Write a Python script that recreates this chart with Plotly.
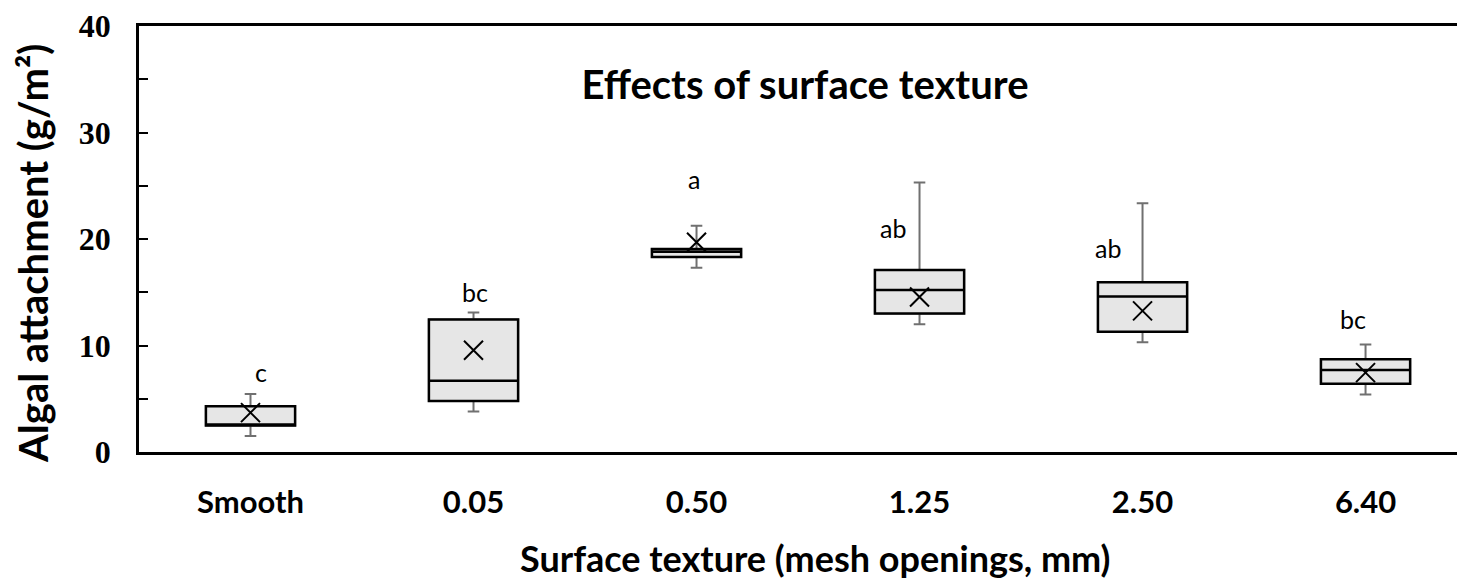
import plotly.graph_objects as go

# box statistics (g/m2)
textures = ["Smooth", "0.05", "0.50", "1.25", "2.50", "6.40"]
lower = [1.5, 3.8, 17.3, 12.0, 10.3, 5.4]
q1 = [2.5, 4.8, 18.3, 13.0, 11.3, 6.4]
median = [2.55, 6.7, 18.8, 15.2, 14.6, 7.7]
q3 = [4.3, 12.45, 19.05, 17.1, 15.95, 8.7]
upper = [5.45, 13.1, 21.25, 25.3, 23.35, 10.1]
means = [3.7, 9.55, 19.7, 14.55, 13.25, 7.45]

# significance letters and where they sit
letters = ["c", "bc", "a", "ab", "ab", "bc"]
letter_y = [7.5, 15.0, 25.6, 21.0, 19.2, 12.5]
letter_dx = [10, 1, -3, -27, -35, -13]

SANS = "Lato"

fig = go.Figure()

# whiskers (grey) – full box drawn first
fig.add_trace(go.Box(
    x=textures, q1=q1, median=median, q3=q3, lowerfence=lower, upperfence=upper,
    fillcolor="#e6e6e6", line=dict(color="#707070", width=2),
    width=0.4, whiskerwidth=0.13, boxpoints=False, hoverinfo="skip", showlegend=False,
))
# box + median in black on top, no whiskers
fig.add_trace(go.Box(
    x=textures, q1=q1, median=median, q3=q3, lowerfence=q1, upperfence=q3,
    fillcolor="#e6e6e6", line=dict(color="black", width=2.5),
    width=0.4, whiskerwidth=0, boxpoints=False, showlegend=False,
))
# means
fig.add_trace(go.Scatter(
    x=textures, y=means, mode="markers", showlegend=False,
    marker=dict(symbol="x-thin-open", size=19, color="black",
                line=dict(color="black", width=2)),
))

for i, (lab, ly, dx) in enumerate(zip(letters, letter_y, letter_dx)):
    fig.add_annotation(x=i, y=ly, text=lab, showarrow=False, xshift=dx,
                       font=dict(family=SANS, size=25, color="black"))

# axis titles as paper annotations so they sit exactly where the original has them
fig.add_annotation(text="<b>Algal attachment (g/m²)</b>", textangle=-90,
                   xref="paper", yref="paper", x=0, y=0.465, xshift=-106,
                   xanchor="center", yanchor="middle",
                   showarrow=False, font=dict(family=SANS, size=40, color="black"))
fig.add_annotation(text="<b>Surface texture (mesh openings, mm)</b>",
                   xref="paper", yref="paper", x=0.51, y=0, yshift=-106,
                   xanchor="center", yanchor="middle",
                   showarrow=False, font=dict(family=SANS, size=36, color="black"))

fig.update_layout(
    width=1457, height=577, plot_bgcolor="white", paper_bgcolor="white",
    margin=dict(l=131, r=0, t=14, b=133), boxmode="overlay",
    title=dict(text="<b>Effects of surface texture</b>", x=0.547, xanchor="center",
               y=0.866, yanchor="middle", font=dict(family=SANS, size=40, color="black")),
    xaxis=dict(type="category", range=[-0.5, 5.446], showline=True, linecolor="black",
               linewidth=2.5, mirror=True, ticks="", showgrid=False, ticklabelstandoff=21,
               tickfont=dict(family=SANS, size=31, color="black"),
               tickprefix="<b>", ticksuffix="</b>"),
    yaxis=dict(range=[0, 40], dtick=10, showline=True, linecolor="black", linewidth=2.5,
               ticks="inside", ticklen=9, tickwidth=1.5, tickcolor="black",
               minor=dict(ticks="inside", dtick=5, ticklen=9, tickwidth=1.5, tickcolor="black"),
               showgrid=False, zeroline=False, ticklabelstandoff=19,
               ticklabeloverflow="allow",
               tickfont=dict(family="Liberation Serif", size=32, color="black"),
               tickprefix="<b>", ticksuffix="</b>"),
)

fig.write_html("out.html")
